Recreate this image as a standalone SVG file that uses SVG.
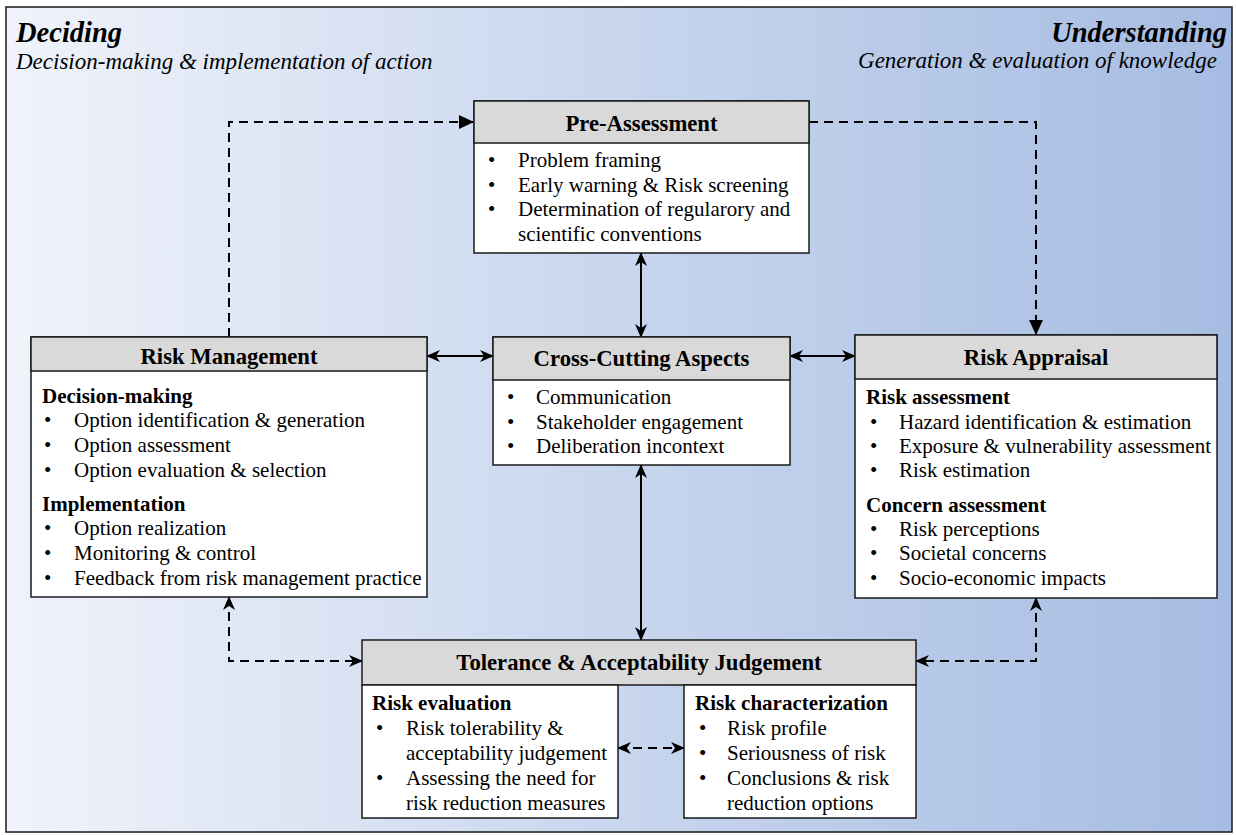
<svg xmlns="http://www.w3.org/2000/svg" width="1236" height="835" viewBox="0 0 1236 835">
<defs>
<linearGradient id="bg" x1="0" y1="0" x2="1" y2="0">
<stop offset="0" stop-color="#f0f3fa"/>
<stop offset="0.5" stop-color="#c8d6ee"/>
<stop offset="1" stop-color="#a6bce2"/>
</linearGradient>
<marker id="stealth" viewBox="0 0 14 12" refX="13" refY="6" markerWidth="14" markerHeight="12" markerUnits="userSpaceOnUse" orient="auto-start-reverse">
<path d="M0,0 L14,6 L0,12 L4,6 Z" fill="#000"/>
</marker>
<marker id="tri" viewBox="0 0 15 14" refX="15" refY="7" markerWidth="15" markerHeight="14" markerUnits="userSpaceOnUse" orient="auto">
<path d="M0,0 L15,7 L0,14 Z" fill="#000"/>
</marker>
<style>
text { font-family: "Liberation Serif", "Times New Roman", serif; fill: #000; }
.hd { fill: #d9d9d9; stroke: #1a1a1a; stroke-width: 1.5; }
.bd { fill: #fff; stroke: #1a1a1a; stroke-width: 1.5; }
.ttl { font-size: 22.7px; font-weight: bold; text-anchor: middle; }
.b { font-size: 21px; }
.sh { font-size: 21px; font-weight: bold; }
.big { font-size: 28.5px; font-weight: bold; font-style: italic; }
.sub { font-size: 23px; font-style: italic; }
.sol { fill: none; stroke: #000; stroke-width: 2; marker-start: url(#stealth); marker-end: url(#stealth); }
.dsh { fill: none; stroke: #000; stroke-width: 2; stroke-dasharray: 9 6; }
</style>
</defs>
<rect x="6" y="7" width="1226" height="825" fill="url(#bg)" stroke="#1a1a1a" stroke-width="1.5"/>

<g id="header-left">
<text x="16" y="42" class="big">Deciding</text>
<text x="16" y="69" class="sub">Decision-making &amp; implementation of action</text>
</g>
<g id="header-right">
<text x="1227" y="42" class="big" text-anchor="end">Understanding</text>
<text x="1217" y="68" class="sub" text-anchor="end">Generation &amp; evaluation of knowledge</text>
</g>

<g id="connectors">
<path class="dsh" d="M229,337 V122 H474" marker-end="url(#tri)"/>
<path class="dsh" d="M809,122 H1036 V335" marker-end="url(#tri)"/>
<path class="sol" d="M641,253 V337"/>
<path class="sol" d="M427,356 H493"/>
<path class="sol" d="M790,356 H855"/>
<path class="sol" d="M641,465 V640"/>
<path class="dsh" d="M229,597 V661 H362" marker-start="url(#stealth)" marker-end="url(#stealth)"/>
<path class="dsh" d="M1036,598 V661 H916" marker-start="url(#stealth)" marker-end="url(#stealth)"/>
<path class="dsh" d="M618,748 H684" marker-start="url(#stealth)" marker-end="url(#stealth)"/>
</g>

<g id="pre-assessment">
<rect class="bd" x="474" y="101" width="335" height="152"/>
<rect class="hd" x="474" y="101" width="335" height="42"/>
<text x="641.5" y="131" class="ttl">Pre-Assessment</text>
<text class="b">
<tspan x="488" y="167">•</tspan><tspan x="518" y="167">Problem framing</tspan>
<tspan x="488" y="191.5">•</tspan><tspan x="518" y="191.5">Early warning &amp; Risk screening</tspan>
<tspan x="488" y="216">•</tspan><tspan x="518" y="216">Determination of regularory and</tspan>
<tspan x="518" y="240.5">scientific conventions</tspan>
</text>
</g>

<g id="risk-management">
<rect class="bd" x="31" y="337" width="396" height="260"/>
<rect class="hd" x="31" y="337" width="396" height="34"/>
<text x="229" y="364" class="ttl">Risk Management</text>
<text x="42" y="403" class="sh">Decision-making</text>
<text class="b">
<tspan x="44" y="427">•</tspan><tspan x="74" y="427">Option identification &amp; generation</tspan>
<tspan x="44" y="452">•</tspan><tspan x="74" y="452">Option assessment</tspan>
<tspan x="44" y="477">•</tspan><tspan x="74" y="477">Option evaluation &amp; selection</tspan>
</text>
<text x="42" y="511" class="sh">Implementation</text>
<text class="b">
<tspan x="44" y="535">•</tspan><tspan x="74" y="535">Option realization</tspan>
<tspan x="44" y="560">•</tspan><tspan x="74" y="560">Monitoring &amp; control</tspan>
<tspan x="44" y="585">•</tspan><tspan x="74" y="585">Feedback from risk management practice</tspan>
</text>
</g>

<g id="cross-cutting">
<rect class="bd" x="493" y="337" width="297" height="128"/>
<rect class="hd" x="493" y="337" width="297" height="43"/>
<text x="641.5" y="366" class="ttl">Cross-Cutting Aspects</text>
<text class="b">
<tspan x="507" y="404">•</tspan><tspan x="536" y="404">Communication</tspan>
<tspan x="507" y="428.5">•</tspan><tspan x="536" y="428.5">Stakeholder engagement</tspan>
<tspan x="507" y="453">•</tspan><tspan x="536" y="453">Deliberation incontext</tspan>
</text>
</g>

<g id="risk-appraisal">
<rect class="bd" x="855" y="335" width="362" height="263"/>
<rect class="hd" x="855" y="335" width="362" height="44"/>
<text x="1036" y="365" class="ttl">Risk Appraisal</text>
<text x="866" y="404" class="sh">Risk assessment</text>
<text class="b">
<tspan x="870" y="428.5">•</tspan><tspan x="899" y="428.5">Hazard identification &amp; estimation</tspan>
<tspan x="870" y="453">•</tspan><tspan x="899" y="453">Exposure &amp; vulnerability assessment</tspan>
<tspan x="870" y="477">•</tspan><tspan x="899" y="477">Risk estimation</tspan>
</text>
<text x="866" y="512" class="sh">Concern assessment</text>
<text class="b">
<tspan x="870" y="535.5">•</tspan><tspan x="899" y="535.5">Risk perceptions</tspan>
<tspan x="870" y="560">•</tspan><tspan x="899" y="560">Societal concerns</tspan>
<tspan x="870" y="585">•</tspan><tspan x="899" y="585">Socio-economic impacts</tspan>
</text>
</g>

<g id="tolerance">
<rect class="hd" x="362" y="640" width="554" height="45"/>
<text x="639" y="670" class="ttl">Tolerance &amp; Acceptability Judgement</text>
</g>

<g id="risk-evaluation">
<rect class="bd" x="362" y="685" width="256" height="133"/>
<text x="372" y="710" class="sh">Risk evaluation</text>
<text class="b">
<tspan x="376" y="735">•</tspan><tspan x="406" y="735">Risk tolerability &amp;</tspan>
<tspan x="406" y="760">acceptability judgement</tspan>
<tspan x="376" y="785">•</tspan><tspan x="406" y="785">Assessing the need for</tspan>
<tspan x="406" y="810">risk reduction measures</tspan>
</text>
</g>

<g id="risk-characterization">
<rect class="bd" x="684" y="685" width="232" height="133"/>
<text x="695" y="710" class="sh">Risk characterization</text>
<text class="b">
<tspan x="699" y="735">•</tspan><tspan x="727" y="735">Risk profile</tspan>
<tspan x="699" y="760">•</tspan><tspan x="727" y="760">Seriousness of risk</tspan>
<tspan x="699" y="785">•</tspan><tspan x="727" y="785">Conclusions &amp; risk</tspan>
<tspan x="727" y="810">reduction options</tspan>
</text>
</g>
</svg>
